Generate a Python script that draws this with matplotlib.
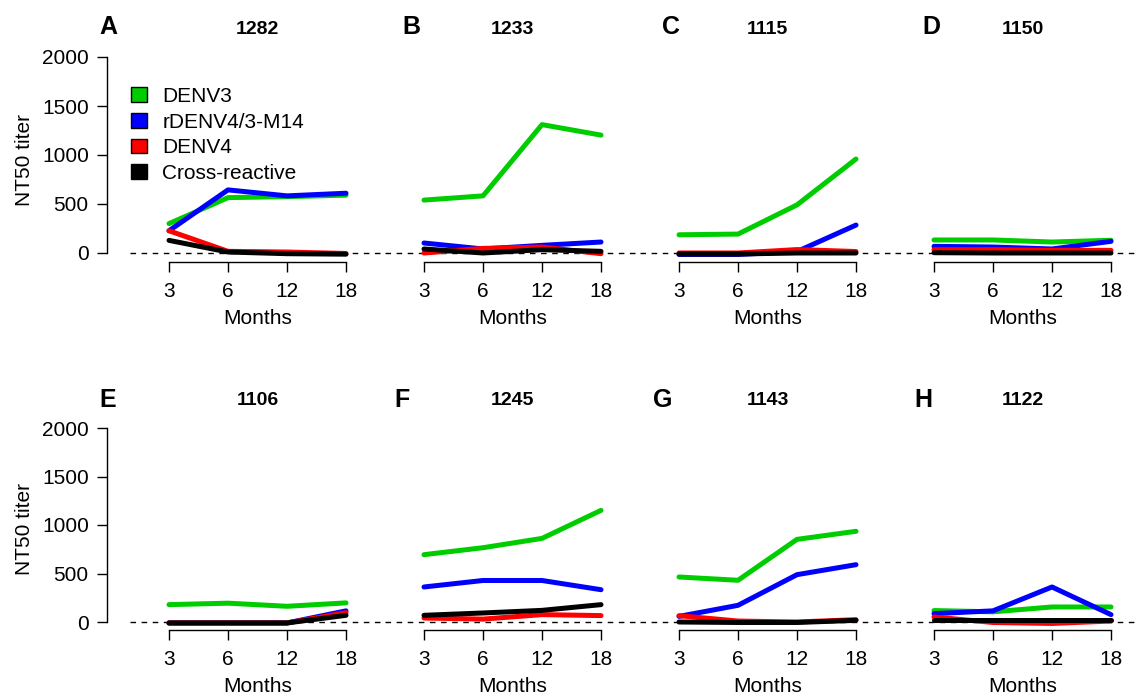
import matplotlib
matplotlib.use("Agg")
import matplotlib.pyplot as plt
from matplotlib.patches import Patch

plt.rcParams['font.family'] = ['Liberation Sans', 'DejaVu Sans']

months = ['3', '6', '12', '18']
letters = ['A', 'B', 'C', 'D', 'E', 'F', 'G', 'H']
subjects = ['1282', '1233', '1115', '1150', '1106', '1245', '1143', '1122']
series_names = ['DENV3', 'rDENV4/3-M14', 'DENV4', 'Cross-reactive']
series_colors = ['#00CD00', '#0000FF', '#FF0000', 'black']

denv3 = [
    [300, 565, 575, 590],
    [540, 583, 1310, 1203],
    [186, 193, 491, 959],
    [133, 133, 112, 130],
    [179, 194, 162, 197],
    [694, 766, 862, 1151],
    [464, 430, 852, 935],
    [118, 105, 155, 155],
]
m14 = [
    [227, 644, 583, 610],
    [102, 41, 78, 112],
    [-15, -15, 15, 285],
    [68, 61, 41, 119],
    [-10, -10, -10, 115],
    [361, 428, 428, 333],
    [58, 172, 488, 591],
    [86, 115, 361, 76],
]
denv4 = [
    [227, 17, 10, -5],
    [0, 47, 61, -7],
    [0, 0, 35, 15],
    [34, 34, 27, 27],
    [-10, -10, -10, 96],
    [41, 30, 76, 66],
    [65, 10, 0, 24],
    [52, -5, -15, 10],
]
cross = [
    [129, 10, -7, -12],
    [41, 0, 34, 17],
    [-10, -10, 0, 0],
    [3, 0, 0, 0],
    [-10, -10, -10, 69],
    [69, 93, 120, 179],
    [0, -5, -5, 17],
    [24, 24, 24, 24],
]
all_series = [denv3, m14, denv4, cross]

W, H = 1137, 696
fig = plt.figure(figsize=(W / 100, H / 100), dpi=100)

# row layout in pixels: (top of 2000, zero level, axis line)
rows = [(57, 253, 262), (428, 622, 630)]
letter_x = [[108, 411, 671, 931], [108, 402, 663, 923]]
letter_y = [27, 400]
xpos = [1, 2, 3, 4]
fs = 15

for k in range(8):
    r, c = divmod(k, 4)
    ytop, y0, ybot = rows[r]
    left = 130 + 255 * c
    ax = fig.add_axes([left / W, 1 - ybot / H, 255 / W, (ybot - ytop) / H])
    ymin = -(ybot - y0) / (y0 - ytop) * 2000
    ax.set_ylim(ymin, 2000)
    ax.set_xlim(0.339, 4.661)

    ax.axhline(0, color='black', lw=1, ls=(0, (4, 4)), zorder=1)
    for vals, col in zip(all_series, series_colors):
        ax.plot(xpos, vals[k], color=col, lw=3.6, solid_capstyle='round',
                solid_joinstyle='round', zorder=2)

    for s in ['top', 'right']:
        ax.spines[s].set_visible(False)
    ax.spines['bottom'].set_bounds(1, 4)
    ax.spines['bottom'].set_linewidth(1)
    ax.set_xticks(xpos)
    ax.set_xticklabels(months)
    ax.tick_params(axis='x', direction='out', length=7.2, width=1,
                   labelsize=fs, pad=7)
    ax.set_xlabel('Months', fontsize=fs, labelpad=6)

    if c == 0:
        ax.spines['left'].set_position(('outward', 16.5))
        ax.spines['left'].set_bounds(0, 2000)
        ax.spines['left'].set_linewidth(1)
        ax.set_yticks([0, 500, 1000, 1500, 2000])
        ax.tick_params(axis='y', direction='out', length=7.2, width=1,
                       labelsize=fs, pad=6)
        ax.set_ylabel('NT50 titer', fontsize=fs, labelpad=6)
    else:
        ax.spines['left'].set_visible(False)
        ax.set_yticks([])

    ax.annotate(subjects[k], xy=(0.5, 1), xycoords='axes fraction',
                xytext=(0, 19.5), textcoords='offset points',
                ha='center', va='center', fontsize=14, fontweight='bold')
    fig.text(letter_x[r][c] / W, 1 - letter_y[r] / H, letters[k],
             ha='center', va='center', fontsize=18, fontweight='bold')

    if k == 0:
        handles = [Patch(facecolor=col, edgecolor='black', lw=1)
                   for col in series_colors]
        ax.legend(handles, series_names, loc='upper left', frameon=False,
                  bbox_to_anchor=(131 / W, 1 - 87 / H),
                  bbox_transform=fig.transFigure, fontsize=fs,
                  handlelength=0.75, handleheight=0.7, handletextpad=0.75,
                  labelspacing=0.32, borderpad=0, borderaxespad=0)

fig.savefig('out.png', dpi=100)
